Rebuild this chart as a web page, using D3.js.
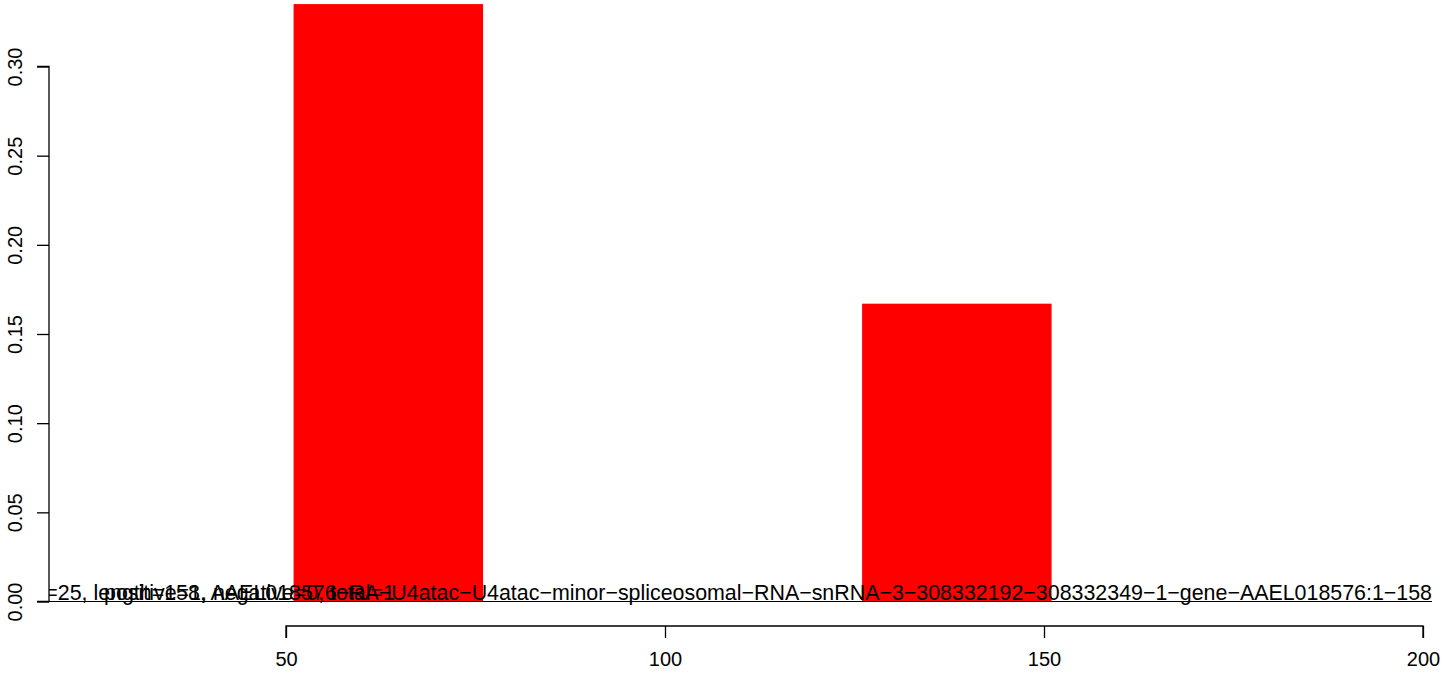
<!DOCTYPE html>
<html><head><meta charset="utf-8">
<script src="https://cdn.jsdelivr.net/npm/d3@7"></script>
<style>body{margin:0;background:#fff}svg{display:block}text{font-family:"Liberation Sans",Arial,sans-serif;fill:#000}</style>
</head><body><svg id="c" width="1444" height="676"></svg>
<script>
const barStart = [51, 126];
const barEnd = [76, 151];
const barValue = [0.335, 0.167];
const xTicks = [50, 100, 150, 200];
const yTicks = [0, 0.05, 0.10, 0.15, 0.20, 0.25, 0.30];
const labelMain = "=25, length=158, AAEL018576\u2212RA\u2212U4atac\u2212U4atac\u2212minor\u2212spliceosomal\u2212RNA\u2212snRNA\u22123\u2212308332192\u2212308332349\u22121\u2212gene\u2212AAEL018576:1\u2212158";
const labelCounts = "positive=1, negative=0, total=1";

const svg = d3.select("#c");
const x = d3.scaleLinear().domain([50, 200]).range([286, 1423]);
const y = d3.scaleLinear().domain([0, 0.30]).range([601.5, 66.5]);
const plotL = 49, plotR = 1432;

svg.append("defs").append("clipPath").attr("id","pc").append("rect")
  .attr("x", plotL).attr("y", 0).attr("width", plotR - plotL).attr("height", 626);

const g = svg.append("g").attr("clip-path","url(#pc)");
g.selectAll("rect.bar").data(barValue).enter().append("rect")
  .attr("x", (d,i)=>x(barStart[i])).attr("width",(d,i)=>x(barEnd[i])-x(barStart[i]))
  .attr("y", d=>y(d)).attr("height", d=>y(0)-y(d)).attr("fill","#ff0000");

g.append("line").attr("x1", plotL).attr("x2", plotR).attr("y1", y(0)).attr("y2", y(0))
  .attr("stroke","#000").attr("stroke-width",1);

g.append("text").attr("x", plotR).attr("y", y(0)-1.5).attr("text-anchor","end")
  .attr("font-size", 21.4).text(labelMain);
g.append("text").attr("x", x(26)).attr("y", y(0)-1.5).attr("text-anchor","start")
  .attr("font-size", 21.4).text(labelCounts);

const xAxis = d3.axisBottom(x).tickValues(xTicks).tickFormat(d3.format("d")).tickSize(12).tickPadding(14);
const xa = svg.append("g").attr("transform","translate(0,626)").call(xAxis);
xa.select(".domain").attr("d", `M${x(50)},12V0H${x(200)}V12`).attr("stroke-width",1.3);
xa.selectAll(".tick line").attr("stroke-width",1.3);
xa.selectAll("text").attr("font-size",20).attr("font-family","Liberation Sans, Arial, sans-serif").attr("fill","#000");

const yAxis = d3.axisLeft(y).tickValues(yTicks).tickFormat(d3.format(".2f")).tickSize(12).tickPadding(0);
const ya = svg.append("g").attr("transform","translate(49,0)").call(yAxis);
ya.select(".domain").attr("d", `M-12,${y(0.30)}H0V${y(0)}H-12`).attr("stroke-width",1.3);
ya.selectAll(".tick line").attr("stroke-width",1.3);
ya.selectAll("text").attr("font-size",20).attr("font-family","Liberation Sans, Arial, sans-serif").attr("fill","#000")
  .attr("transform","translate(-27,0) rotate(-90)").attr("x",0).attr("dy",0).attr("text-anchor","middle");
</script></body></html>
